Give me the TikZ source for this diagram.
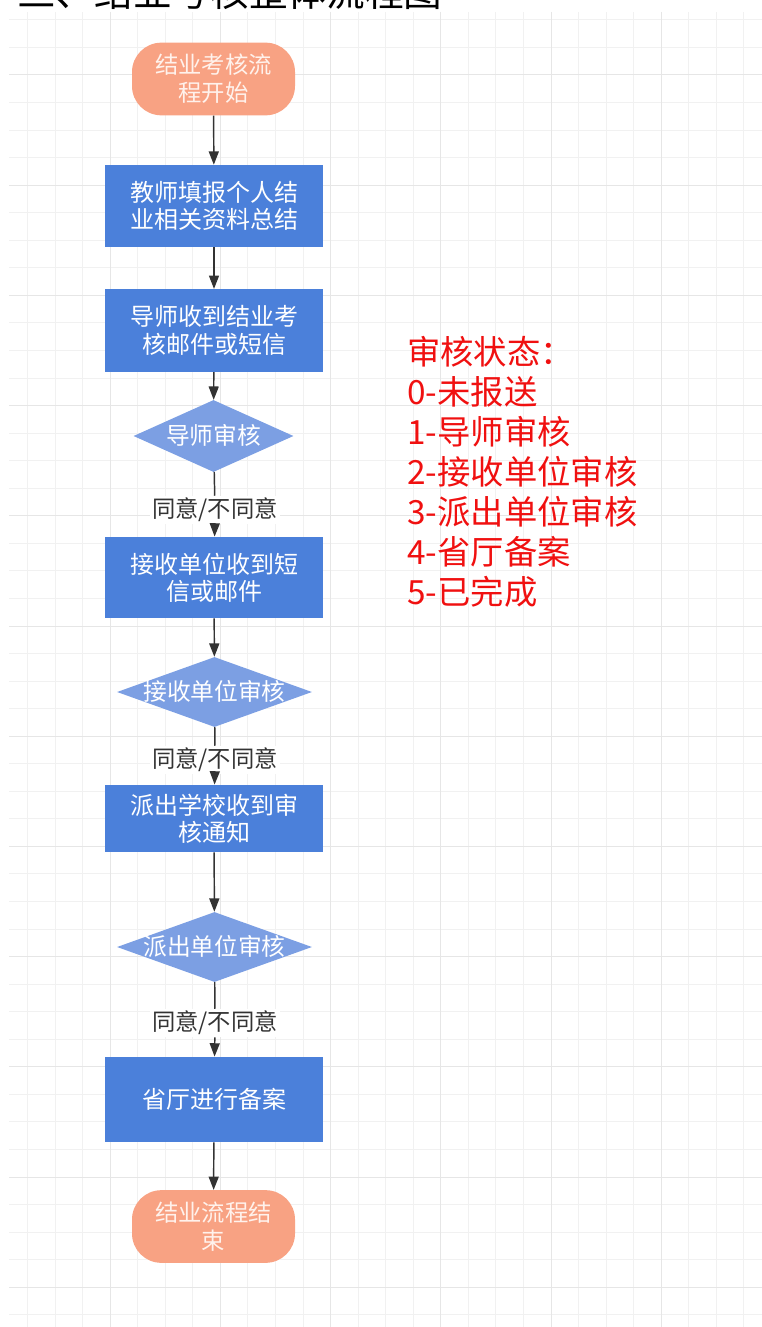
\documentclass[tikz,border=0pt]{standalone}
\usepackage{fontspec}
\setmainfont{Noto Sans CJK SC}
\usetikzlibrary{shapes.geometric,arrows.meta}
\definecolor{termfill}{HTML}{F8A283}
\definecolor{termtext}{HTML}{FFF2EC}
\definecolor{boxfill}{HTML}{4B80DA}
\definecolor{diafill}{HTML}{7C9FE3}
\definecolor{arrowcol}{HTML}{333333}
\definecolor{gridminor}{HTML}{F1F1F1}
\definecolor{gridmajor}{HTML}{E6E6E6}
\definecolor{legendred}{HTML}{F01010}
\newcommand{\diatext}[1]{\makebox[0pt]{\raisebox{-0.37em}[0pt][0pt]{#1}}}
\tikzset{
  terminal/.style={draw=none, fill=termfill, rounded corners=22pt, minimum width=122.25pt, minimum height=54.5pt, inner sep=0pt, text=termtext, align=center, font=\fontsize{17.5}{21}\selectfont},
  stepbox/.style={draw=none, fill=boxfill, minimum width=163.5pt, inner sep=0pt, text=white, align=center, font=\fontsize{18}{20.5}\selectfont},
  decision/.style={diamond, draw=none, fill=diafill, inner sep=0pt, text=white, font=\fontsize{17.8}{20.5}\selectfont},
  edgelabel/.style={fill=white, inner sep=1.5pt, text=arrowcol, font=\fontsize{17.5}{19}\selectfont},
  flow/.style={draw=arrowcol, line width=1.1pt, -{Triangle[length=10pt,width=7.5pt]}},
  plainline/.style={draw=arrowcol, line width=1.1pt},
  legend/.style={anchor=base west, inner sep=0pt, text=legendred, font=\fontsize{25}{27}\selectfont},
}
\begin{document}
\begin{tikzpicture}[x=0.75pt, y=-0.75pt]
\useasboundingbox (0,0) rectangle (762,1327);
\clip (0,0) rectangle (762,1327);
% grid
\begin{scope}
  \clip (9,12) rectangle (762,1327);
  \foreach \i in {1,...,28} \draw[gridminor, line width=0.75pt] (\i*27.55,12) -- (\i*27.55,1327);
  \foreach \j in {0,...,47} \draw[gridminor, line width=0.75pt] (9,19.9+\j*27.55) -- (762,19.9+\j*27.55);
  \foreach \k in {1,...,6} \draw[gridmajor, line width=0.75pt] (\k*110.2,12) -- (\k*110.2,1327);
  \foreach \k in {0,...,11} \draw[gridmajor, line width=0.75pt] (9,75+\k*110.2) -- (762,75+\k*110.2);
\end{scope}
% title (cut off at top, as in the reference)
\node[anchor=base west, inner sep=0pt, font=\fontsize{29}{30}\selectfont] (title) at (17,7) {三、结业考核整体流程图};
% nodes
\node[terminal] (start) at (213.5,79) {结业考核流\\程开始};
\node[stepbox, minimum height=61.5pt] (b1) at (214,206) {教师填报个人结\\业相关资料总结};
\node[stepbox, minimum height=62pt] (b2) at (214,330.5) {导师收到结业考\\核邮件或短信};
\node[decision, minimum width=120pt, minimum height=54pt] (d1) at (213.5,436) {\diatext{导师审核}};
\node[edgelabel] (l1) at (215,510) {同意/不同意};
\node[stepbox, minimum height=61pt] (b3) at (214,577.5) {接收单位收到短\\信或邮件};
\node[decision, minimum width=146.25pt, minimum height=52.5pt] (d2) at (214.5,692) {\diatext{接收单位审核}};
\node[edgelabel] (l2) at (215,760) {同意/不同意};
\node[stepbox, minimum height=50.5pt] (b4) at (214,818.5) {派出学校收到审\\核通知};
\node[decision, minimum width=146.25pt, minimum height=52.5pt] (d3) at (214.5,947) {\diatext{派出单位审核}};
\node[edgelabel] (l3) at (215,1023) {同意/不同意};
\node[stepbox, minimum height=64pt] (b5) at (214,1099.5) {省厅进行备案};
\node[terminal] (end) at (213.5,1226.5) {结业流程结\\束};
% connectors
\draw[flow] (start) -- (b1);
\draw[flow] (b1) -- (b2);
\draw[flow] (b2) -- (d1);
\draw[plainline] (d1) -- (l1);
\draw[flow] (l1) -- (b3);
\draw[flow] (b3) -- (d2);
\draw[plainline] (d2) -- (l2);
\draw[flow] (l2) -- (b4);
\draw[flow] (b4) -- (d3);
\draw[plainline] (d3) -- (l3);
\draw[flow] (l3) -- (b5);
\draw[flow] (b5) -- (end);
% legend
\node[legend] (g0) at (407,364) {审核状态：};
\node[legend] (g1) at (407,404) {0-未报送};
\node[legend] (g2) at (407,444) {1-导师审核};
\node[legend] (g3) at (407,484.5) {2-接收单位审核};
\node[legend] (g4) at (407,524.5) {3-派出单位审核};
\node[legend] (g5) at (407,564.5) {4-省厅备案};
\node[legend] (g6) at (407,604.5) {5-已完成};
\end{tikzpicture}
\end{document}
